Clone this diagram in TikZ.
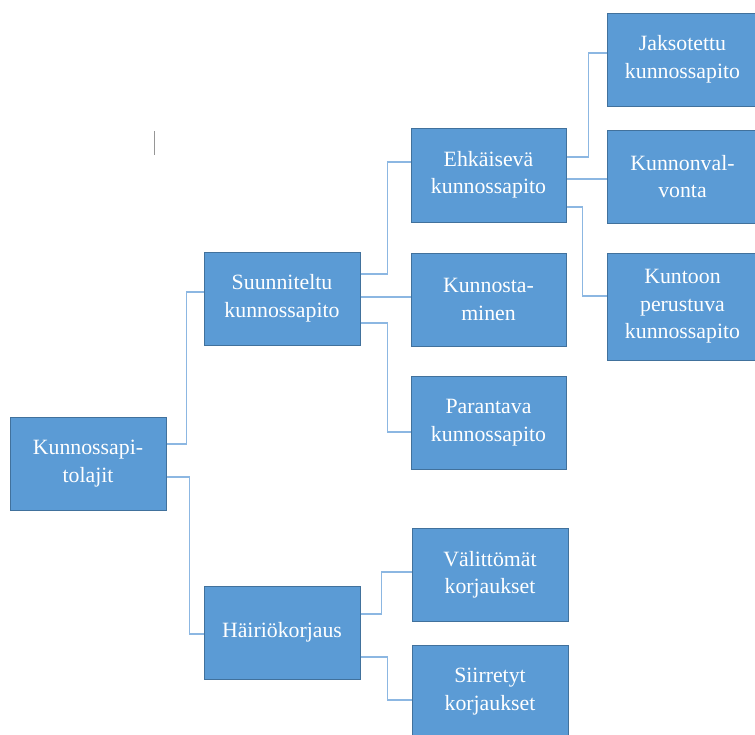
\documentclass[tikz,border=0pt]{standalone}
\usepackage{fontspec}
\setmainfont{Liberation Serif}
\newfontfamily\boxfont{Liberation Serif}
\definecolor{boxfill}{RGB}{91,155,213}
\definecolor{boxline}{RGB}{65,113,156}
\definecolor{connline}{RGB}{140,183,226}
\definecolor{cursorgray}{RGB}{150,150,150}
\begin{document}
\begin{tikzpicture}[x=1pt,y=-1pt,
  box/.style={draw=boxline, fill=boxfill, line width=1pt, text=white,
    align=center, inner sep=0pt, minimum width=#1, minimum height=93pt,
    font=\boxfont\fontsize{21.8}{27.5}\selectfont},
  box/.default=156pt,
  conn/.style={draw=connline, line width=1.7pt}]
\useasboundingbox (0,0) rectangle (755,734);
% nodes
\node[box] (K) at (88,463.5) {Kunnossapi-\\tolajit};
\node[box] (S) at (282,298.5) {Suunniteltu\\kunnossapito};
\node[box] (H) at (282,632.5) {Häiriökorjaus};
\node[box=155pt, minimum height=94pt] (E) at (488.5,175) {Ehkäisevä\\kunnossapito};
\node[box=155pt] (Kn) at (488.5,299.5) {Kunnosta-\\minen};
\node[box=155pt] (P) at (488.5,422.5) {Parantava\\kunnossapito};
\node[box] (V) at (490,574.5) {Välittömät\\korjaukset};
\node[box] (Si) at (490,691.5) {Siirretyt\\korjaukset};
\node[box=151pt] (J) at (682.5,59.5) {Jaksotettu\\kunnossapito};
\node[box=151pt] (Kv) at (682.5,176.5) {Kunnonval-\\vonta};
\node[box=151pt, minimum height=107pt] (Ku) at (682.5,306.5) {Kuntoon\\perustuva\\kunnossapito};
% connectors
\draw[conn] ([yshift=19.5pt]K.east) -- ++(20pt,0) |- ([yshift=6.5pt]S.west);
\draw[conn] ([yshift=-13.5pt]K.east) -- ++(23pt,0) |- ([yshift=-1.5pt]H.west);
\draw[conn] ([yshift=24.5pt]S.east) -- ++(27pt,0) |- ([yshift=13pt]E.west);
\draw[conn] ([yshift=1.5pt]S.east) -- ([yshift=2.5pt]Kn.west);
\draw[conn] ([yshift=-24.5pt]S.east) -- ++(27pt,0) |- ([yshift=-9.5pt]P.west);
\draw[conn] ([yshift=18pt]E.east) -- ++(22pt,0) |- ([yshift=6.5pt]J.west);
\draw[conn] ([yshift=-4pt]E.east) -- ([yshift=-2.5pt]Kv.west);
\draw[conn] ([yshift=-32pt]E.east) -- ++(16pt,0) |- ([yshift=10.5pt]Ku.west);
\draw[conn] ([yshift=18.5pt]H.east) -- ++(21pt,0) |- ([yshift=2.5pt]V.west);
\draw[conn] ([yshift=-24.5pt]H.east) -- ++(27pt,0) |- ([yshift=-8.5pt]Si.west);
% text cursor mark
\draw[cursorgray, line width=1pt] (154,131) -- (154,155);
\end{tikzpicture}
\end{document}
